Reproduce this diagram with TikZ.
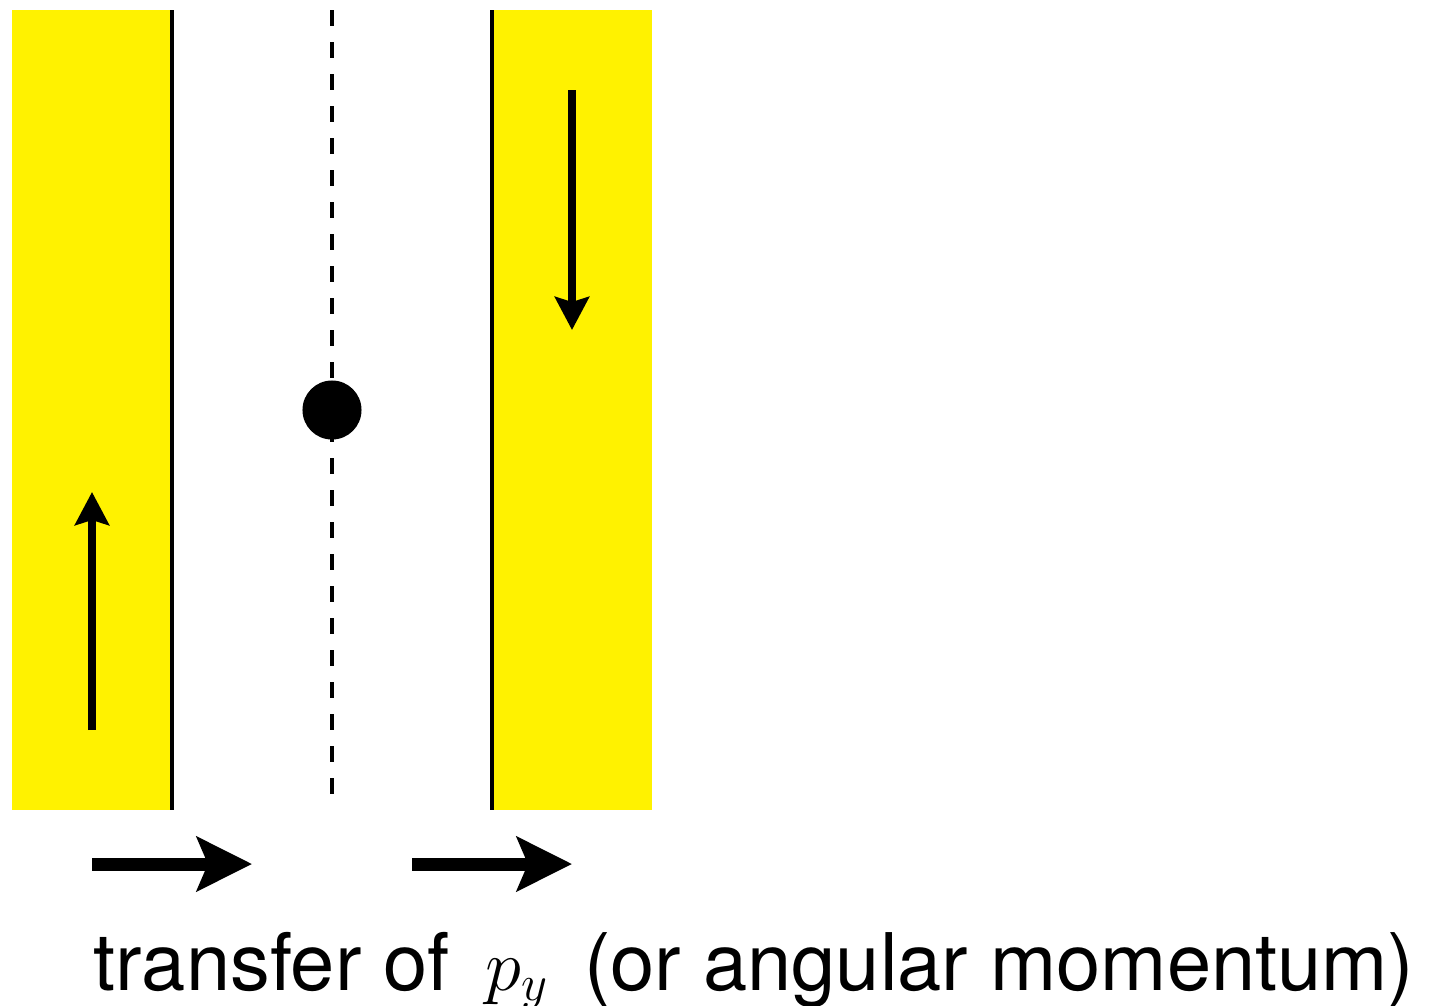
\documentclass[tikz,border=0pt]{standalone}
\usepackage[no-math]{fontspec}
\setmainfont{TeX Gyre Heros}
\usepackage{amsmath}
\usetikzlibrary{arrows.meta}

\begin{document}
\begin{tikzpicture}[
  x=0.01cm, y=-0.01cm,
  slab/.style={fill=yellow, draw=none},
  wall/.style={line width=1.4pt},
  axis/.style={line width=1.4pt, dash pattern=on 0.16cm off 0.16cm},
  flow/.style={-{Stealth[length=3.3mm, width=3.4mm, inset=0.5mm]}, line width=2.3pt},
  drift/.style={-{Stealth[length=5.5mm, width=5.4mm, inset=1.1mm]}, line width=3.7pt}
]
  \useasboundingbox (0,0) rectangle (1429,1005);

  % plates
  \fill[slab] (12,10) rectangle (172,810);
  \fill[slab] (492,10) rectangle (652,810);
  \draw[wall] (172,10) -- (172,810);
  \draw[wall] (492,10) -- (492,810);

  % centre line and particle
  \draw[axis] (332,10) -- (332,795);
  \node[circle, fill, minimum size=0.59cm, inner sep=0pt] (ball) at (332,410) {};

  % plate motion
  \coordinate (upS) at (92,730);
  \coordinate (upE) at (92,492);
  \coordinate (downS) at (572,90);
  \coordinate (downE) at (572,330);
  \draw[flow] (upS) -- (upE);
  \draw[flow] (downS) -- (downE);

  % transfer
  \coordinate (leftS) at (92,864);
  \coordinate (leftE) at (252,864);
  \coordinate (rightS) at (412,864);
  \coordinate (rightE) at (572,864);
  \draw[drift] (leftS) -- (leftE);
  \draw[drift] (rightS) -- (rightE);

  \node[anchor=base west, inner sep=0pt, font=\fontsize{22.6}{27}\selectfont] (caption) at (93,990)
    {transfer of \,$p_y$\, (or angular momentum)};
\end{tikzpicture}
\end{document}
